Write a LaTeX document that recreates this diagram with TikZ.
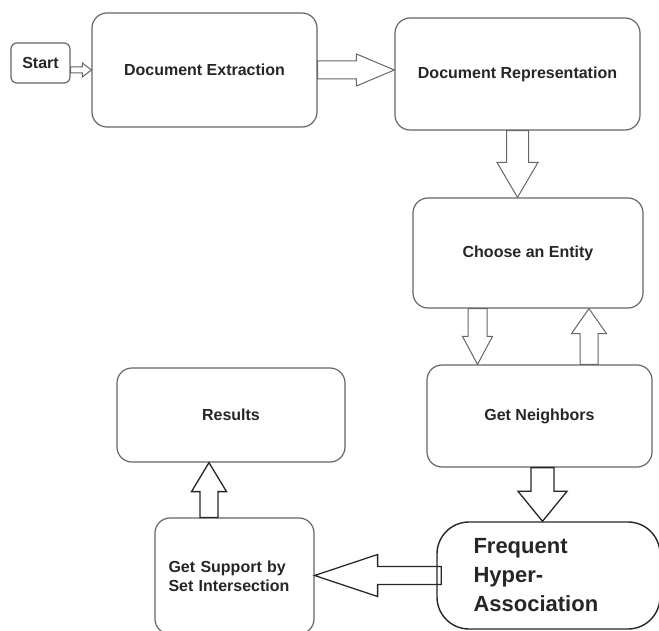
\documentclass[tikz,border=0pt]{standalone}
\usepackage{fontspec}
\setmainfont{Liberation Sans}
\usepackage{tikz}
\usetikzlibrary{calc}
\tikzstyle{startstop} = [rectangle, rounded corners=6pt, draw=gray!80!black, line width=1.2pt, text=black!85, font=\fontsize{16}{19}\selectfont\bfseries, inner sep=0pt]
\tikzstyle{process} = [rectangle, rounded corners=15pt, draw=gray!80!black, line width=1.2pt, text=black!85, font=\fontsize{16}{19}\selectfont\bfseries, text centered, inner sep=0pt]
\tikzstyle{bigbox} = [rectangle, rounded corners=32pt, draw=black!85, line width=1.4pt, text=black!85, font=\fontsize{22}{29}\selectfont\bfseries, text width=150pt, align=left, inner sep=0pt]
\tikzstyle{arrowbox} = [draw=gray!80!black, line width=1pt, line join=miter]
\tikzstyle{darkarrow} = [draw=black!85, line width=1.3pt, line join=miter]

% hollow block arrow: [style]{tail}{tip}{shaft half width}{head half width}{head length}
\newcommand{\blockarrow}[6][arrowbox]{%
	\path (#2) coordinate (tail) (#3) coordinate (tip) ($(tip)!#6!(tail)$) coordinate (neck);
	\draw [#1] ($(tail)!#4!90:(tip)$) -- ($(neck)!#4!90:(tip)$) -- ($(neck)!#5!90:(tip)$) -- (tip)
		-- ($(neck)!#5!-90:(tip)$) -- ($(neck)!#4!-90:(tip)$) -- ($(tail)!#4!-90:(tip)$) -- cycle;
}

\begin{document}
\begin{tikzpicture}[node distance = 160pt]
	\useasboundingbox (-40.5pt,63pt) rectangle (618.5pt,-568pt);

	\node (start) [startstop, minimum width=59pt, minimum height=40pt] {Start};
	\node (docext) [process, minimum width=225pt, minimum height=114pt, right of=start, xshift=4pt, yshift=-7pt] {Document Extraction};
	\node (docrep) [process, minimum width=245pt, minimum height=112pt, right of=docext, xshift=153pt, yshift=-4pt] {Document Representation};
	\node (choose) [process, minimum width=230pt, minimum height=110pt, below of=docrep, xshift=10.5pt, yshift=-19pt] {Choose an Entity};
	\node (neigh) [process, minimum width=225pt, minimum height=102pt, below of=choose, xshift=11.5pt, yshift=-3pt] {Get Neighbors};
	\node (freq) [bigbox, minimum width=223pt, minimum height=107pt, below of=neigh, xshift=9pt, yshift=0.5pt] {Frequent\\Hyper-\\Association};
	\node (support) [process, minimum width=159pt, minimum height=116pt, text width=132pt, align=left, left of=freq, xshift=-154pt, yshift=-0.5pt] {Get Support by\\Set Intersection};
	\node (results) [process, minimum width=228pt, minimum height=94pt, above of=support, xshift=-3.5pt, yshift=1pt] {Results};

	\coordinate (down1) at ([xshift=-50.5pt]choose.south);
	\coordinate (up1) at ([xshift=49.5pt]neigh.north);
	\coordinate (down2) at ([xshift=3pt]neigh.south);
	\coordinate (left1) at ([xshift=5pt]freq.west);
	\coordinate (up2) at ([xshift=-25.5pt]support.north);

	\blockarrow{start.east |- docext.west}{docext.west}{3pt}{7pt}{9pt}
	\blockarrow{docext.east}{docext.east -| docrep.west}{9pt}{16pt}{38pt}
	\blockarrow{docrep.south}{docrep.south |- choose.north}{11pt}{20.5pt}{35pt}
	\blockarrow{down1}{down1 |- neigh.north}{9.5pt}{15pt}{28pt}
	\blockarrow{up1}{up1 |- choose.south}{9pt}{17.5pt}{25pt}
	\blockarrow[darkarrow]{down2}{down2 |- freq.north}{11.5pt}{24.5pt}{30pt}
	\blockarrow[darkarrow]{left1}{left1 -| support.east}{9pt}{21pt}{63pt}
	\blockarrow[darkarrow]{up2}{up2 |- results.south}{9pt}{17.5pt}{29pt}
\end{tikzpicture}
\end{document}
